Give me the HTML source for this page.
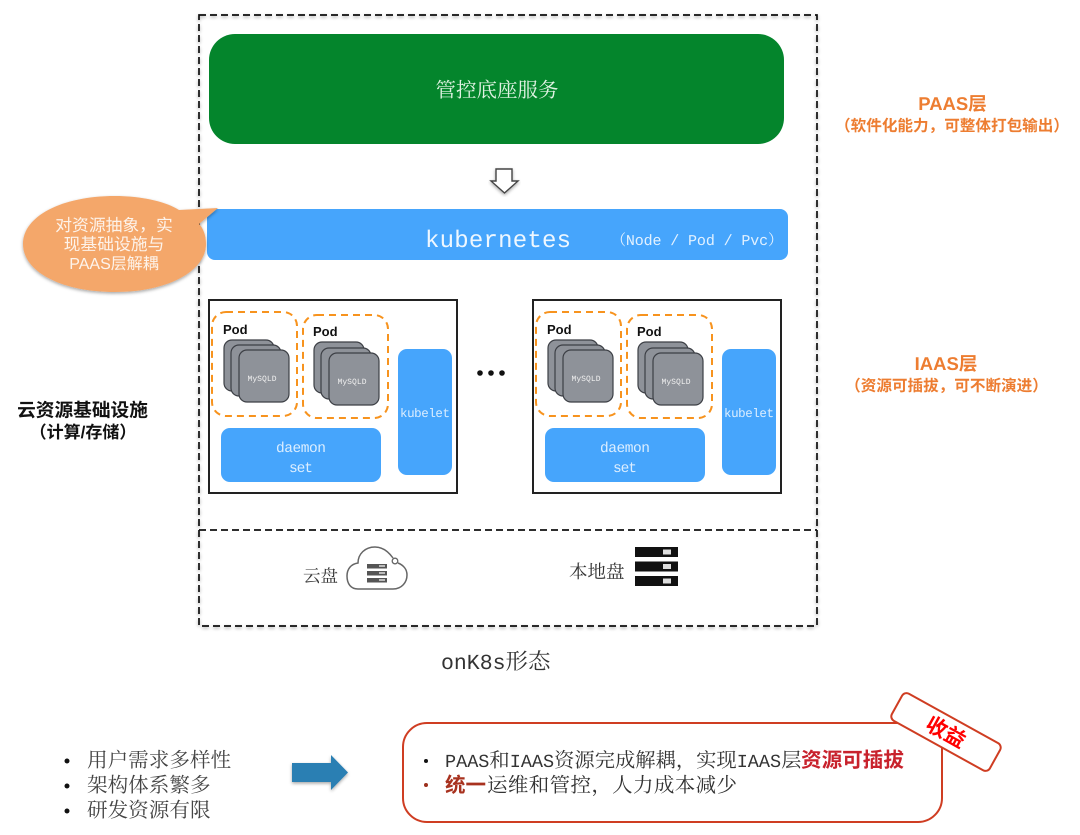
<!DOCTYPE html>
<html><head><meta charset="utf-8">
<style>
html,body{margin:0;padding:0;background:#fff}
svg{display:block}
.s{font-family:"Liberation Sans","Noto Sans CJK SC",sans-serif}
.m{font-family:"Liberation Mono","Noto Serif CJK SC",monospace}
.c{font-family:"Noto Serif CJK SC","Liberation Serif",serif}
text{text-rendering:geometricPrecision}
</style></head><body>
<svg width="1080" height="835" viewBox="0 0 1080 835" xmlns="http://www.w3.org/2000/svg">
<defs>
<filter id="sh" x="-10%" y="-10%" width="120%" height="125%"><feDropShadow dx="0" dy="1.5" stdDeviation="1.5" flood-color="#000" flood-opacity=".35"/></filter>
<g id="node">
<rect x="0" y="0" width="248" height="193" fill="#fff" stroke="#222" stroke-width="2"/>
<rect x="3" y="12" width="85" height="104" rx="14" fill="none" stroke="#f7931e" stroke-width="2" stroke-dasharray="7 5"/>
<rect x="94" y="15" width="85" height="103" rx="14" fill="none" stroke="#f7931e" stroke-width="2" stroke-dasharray="7 5"/>
<text x="14" y="34" class="s" font-size="13" font-weight="700" fill="#111">Pod</text>
<text x="104" y="36" class="s" font-size="13" font-weight="700" fill="#111">Pod</text>
<g fill="#8e9299" stroke="#3c3f45" stroke-width="1.2">
<rect x="15" y="40" width="50" height="51" rx="8"/><rect x="22" y="45" width="50" height="51" rx="8"/><rect x="30" y="50" width="50" height="52" rx="8"/>
<rect x="105" y="42" width="50" height="51" rx="8"/><rect x="112" y="48" width="50" height="51" rx="8"/><rect x="120" y="53" width="50" height="52" rx="8"/>
</g>
<text x="53" y="81" class="m" font-size="8" fill="#f0f0f0" text-anchor="middle" textLength="29">MySQLD</text>
<text x="143" y="84" class="m" font-size="8" fill="#f0f0f0" text-anchor="middle" textLength="29">MySQLD</text>
<rect x="12" y="128" width="160" height="54" rx="9" fill="#46a5fc"/>
<text x="92" y="152" class="m" font-size="14.5" fill="#dceeff" text-anchor="middle" textLength="50">daemon</text>
<text x="92" y="172" class="m" font-size="14.5" fill="#dceeff" text-anchor="middle" textLength="24">set</text>
<rect x="189" y="49" width="54" height="126" rx="9" fill="#46a5fc"/>
<text x="216" y="117" class="m" font-size="12.5" fill="#dceeff" text-anchor="middle" textLength="50">kubelet</text>
</g>
</defs>

<!-- outer dashed -->
<rect x="199" y="15" width="618" height="611" fill="none" stroke="#111" stroke-width="1.7" stroke-dasharray="7 4" filter="url(#sh)"/>
<line x1="199" y1="530" x2="817" y2="530" stroke="#111" stroke-width="1.7" stroke-dasharray="7 4"/>

<!-- green -->
<rect x="209" y="34" width="575" height="110" rx="26" fill="#04852c"/>
<text x="497" y="97" class="c" font-size="20.500" fill="#dff2e2" text-anchor="middle">管控底座服务</text>

<!-- hollow arrow -->
<path d="M496 169H512V181H518L504.500 193L491 181H496Z" fill="#fff" stroke="#444" stroke-width="1.4" filter="url(#sh)"/>

<!-- k8s bar -->
<rect x="207" y="209" width="581" height="51" rx="8" fill="#46a5fc"/>
<text x="498" y="247" class="m" font-size="24" fill="#eef7ff" text-anchor="middle" textLength="146">kubernetes</text>
<text x="697" y="245" class="m" font-size="15" fill="#e2f1ff" text-anchor="middle" textLength="172">（Node / Pod / Pvc）</text>

<!-- callout -->
<path d="M218 208L179 210C165 201 140 196 115 196C62 196 23 216 23 244C23 272 62 292 115 292C170 292 206 270 206 244C206 235 203 228 199 224Z" fill="#f4a76a" filter="url(#sh)"/>
<g class="s" font-size="16.800" fill="#fdf3ea" text-anchor="middle">
<text x="114" y="231">对资源抽象，实</text>
<text x="114" y="250">现基础设施与</text>
<text x="114" y="269" font-size="16">PAAS层解耦</text>
</g>

<!-- nodes -->
<use href="#node" x="209" y="300"/>
<use href="#node" x="533" y="300"/>
<circle cx="480" cy="373" r="2.800" fill="#111"/><circle cx="491" cy="373" r="2.800" fill="#111"/><circle cx="502" cy="373" r="2.800" fill="#111"/>

<!-- right labels -->
<g class="s" font-weight="700" fill="#ed7d31" text-anchor="middle">
<text x="952.500" y="110" font-size="18.500">PAAS层</text>
<text x="952" y="131" font-size="15.600">（软件化能力，可整体打包输出）</text>
<text x="946" y="370" font-size="18.500">IAAS层</text>
<text x="946.500" y="391" font-size="15.600">（资源可插拔，可不断演进）</text>
</g>
<g class="s" font-weight="700" fill="#111" text-anchor="middle" font-size="18.700">
<text x="82.500" y="416.500">云资源基础设施</text>
<text x="83" y="438" font-size="17">（计算/存储）</text>
</g>

<!-- storage -->
<text x="303" y="582" class="c" font-size="17.500" fill="#333">云盘</text>
<path d="M393 558C388 551 382 547 375 547C365 547 358 554 358 563C351 564 347 569 347 576C347 584 351 589 358 589H393C402 589 407 582 407 575C407 569 403 565 398 563" fill="none" stroke="#666" stroke-width="1.500"/>
<circle cx="395" cy="561" r="2.800" fill="none" stroke="#666" stroke-width="1.300"/>
<g fill="#555"><rect x="367" y="564" width="20" height="4.500"/><rect x="367" y="571" width="20" height="4.500"/><rect x="367" y="578" width="20" height="4.500"/></g>
<g fill="#bbb"><rect x="379" y="565" width="6" height="2"/><rect x="379" y="572" width="6" height="2"/><rect x="379" y="579" width="6" height="2"/></g>
<text x="569" y="578" class="c" font-size="18.500" fill="#333">本地盘</text>
<g fill="#111"><rect x="635" y="547" width="43" height="10"/><rect x="635" y="561.500" width="43" height="10"/><rect x="635" y="576" width="43" height="10"/></g>
<g fill="#ddd"><rect x="663" y="549.500" width="8" height="5"/><rect x="663" y="564" width="8" height="5"/><rect x="663" y="578.500" width="8" height="5"/></g>

<text x="441" y="669" fill="#333"><tspan class="m" font-size="21.500">onK8s</tspan><tspan class="c" font-size="22.500">形态</tspan></text>

<!-- bottom left -->
<g fill="#111"><circle cx="67" cy="761" r="2.500"/><circle cx="67" cy="786" r="2.500"/><circle cx="67" cy="811" r="2.500"/></g>
<g class="c" font-size="20.600" fill="#444">
<text x="87" y="767">用户需求多样性</text>
<text x="87" y="792">架构体系繁多</text>
<text x="87" y="817">研发资源有限</text>
</g>
<path d="M292 763H331V755L348 772.500L331 790V782H292Z" fill="#2c7fb3" filter="url(#sh)"/>

<!-- benefits -->
<rect x="403" y="723" width="539" height="99" rx="24" fill="#fff" stroke="#cf3d22" stroke-width="2"/>
<circle cx="426" cy="761" r="2" fill="#111"/>
<circle cx="426" cy="785" r="2" fill="#9c2f1c"/>
<text x="445" y="767" fill="#333" font-size="20.300"><tspan class="m" font-size="18.500">PAAS</tspan><tspan class="c">和</tspan><tspan class="m" font-size="18.500">IAAS</tspan><tspan class="c">资源完成解耦，实现</tspan><tspan class="m" font-size="18.500">IAAS</tspan><tspan class="c">层</tspan></text>
<text x="801" y="767" class="s" font-size="20.600" font-weight="700" fill="#c8222c">资源可插拔</text>
<text x="445" y="792" class="s" font-size="20.500" font-weight="700" fill="#a8321f">统一</text>
<text x="487" y="792" class="c" font-size="20.500" fill="#333" textLength="250">运维和管控，人力成本减少</text>

<g transform="translate(946,732) rotate(29)">
<rect x="-56" y="-15.500" width="112" height="31" rx="5" fill="#fff" stroke="#cf3d22" stroke-width="2"/>
<text x="0" y="7.500" class="s" font-size="21" font-weight="700" fill="#f00" text-anchor="middle">收益</text>
</g>
</svg>
</body></html>
